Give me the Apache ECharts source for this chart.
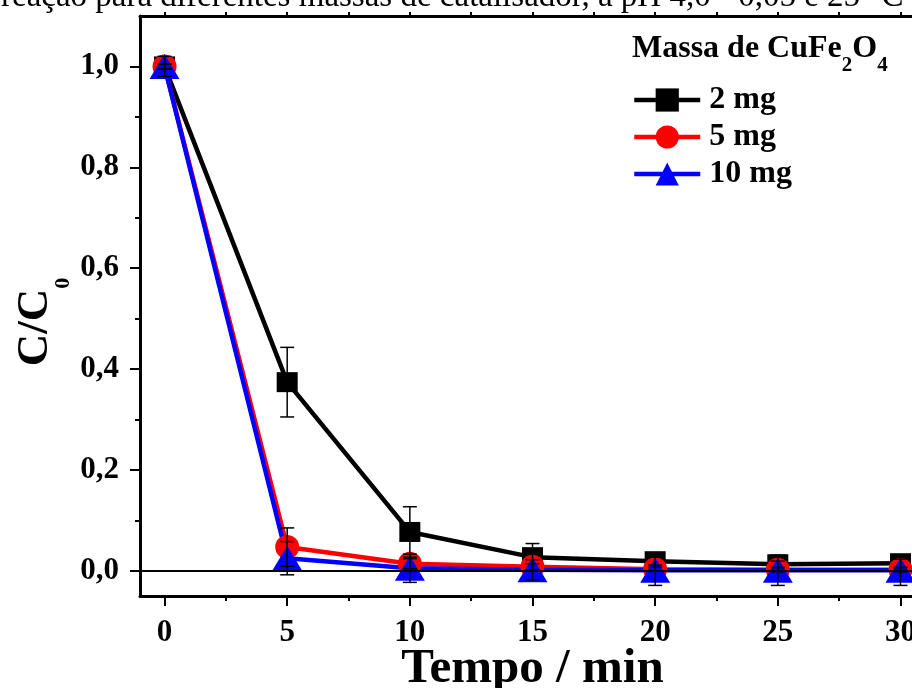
<!DOCTYPE html>
<html>
<head>
<meta charset="utf-8">
<script src="https://cdn.jsdelivr.net/npm/echarts@6/dist/echarts.min.js"></script>
<style>
html, body { margin: 0; padding: 0; background: #fff; }
#main { width: 912px; height: 688px; }
</style>
</head>
<body>
<div id="main"></div>
<script>
// tempo (min) e C/C0 para cada massa de catalisador
var tempo = [0, 5, 10, 15, 20, 25, 30]
var massas = ['2 mg', '5 mg', '10 mg']
var c2mg = [1.0, 0.374, 0.077, 0.027, 0.019, 0.013, 0.015]
var c5mg = [1.0, 0.047, 0.014, 0.008, 0.003, 0.002, 0.002]
var c10mg = [1.0, 0.025, 0.005, 0.002, 0.001, 0.001, 0.001]
// desvios (barras de erro)
var err2mg = [0.005, 0.069, 0.05, 0.027, 0.008, 0.006, 0.008]
var err5mg = [0.005, 0.038, 0.01, 0.006, 0.004, 0.004, 0.004]
var err10mg = [0.02, 0.033, 0.028, 0.02, 0.03, 0.03, 0.03]
// ticks
var xTicks = [0, 5, 10, 15, 20, 25, 30]
var xMinorTicks = [2.5, 7.5, 12.5, 17.5, 22.5, 27.5]
var xTopTicks = [0, 2.5, 5, 7.5, 10, 12.5, 15, 17.5, 20, 22.5, 25, 27.5, 30]
var yTicks = [0, 0.2, 0.4, 0.6, 0.8, 1.0]
var yMinorTicks = [0.1, 0.3, 0.5, 0.7, 0.9]

var serif = '"Liberation Serif", "DejaVu Serif", serif'

function pares (ys) {
  return tempo.map(function (t, i) { return [t, ys[i]] })
}

function serieLinha (name, ys, color, symbol, size) {
  return {
    name: name,
    type: 'line',
    data: pares(ys),
    symbol: symbol,
    symbolSize: size,
    lineStyle: { color: color, width: 4.5 },
    itemStyle: { color: color },
    emphasis: { disabled: true },
    z: 2
  }
}

function serieErro (ys, es) {
  return {
    type: 'custom',
    silent: true,
    z: 5,
    data: tempo.map(function (t, i) { return [t, ys[i], es[i]] }),
    renderItem: function (params, api) {
      var x = api.value(0)
      var y = api.value(1)
      var e = api.value(2)
      var top = api.coord([x, y + e])
      var bot = api.coord([x, y - e])
      var w = 7
      var st = { stroke: '#000', lineWidth: 1.5 }
      return {
        type: 'group',
        children: [
          { type: 'line', shape: { x1: top[0], y1: top[1], x2: bot[0], y2: bot[1] }, style: st },
          { type: 'line', shape: { x1: top[0] - w, y1: top[1], x2: top[0] + w, y2: top[1] }, style: st },
          { type: 'line', shape: { x1: bot[0] - w, y1: bot[1], x2: bot[0] + w, y2: bot[1] }, style: st }
        ]
      }
    }
  }
}

var myChart = echarts.init(document.getElementById('main'))
var gridBox = { left: 140, top: 16, width: 785, height: 580, outerBoundsMode: 'none', containLabel: false }

myChart.setOption({
  animation: false,
  grid: [
    Object.assign({}, gridBox),
    Object.assign({}, gridBox)
  ],
  graphic: [
    {
      type: 'text',
      x: 1,
      y: 14,
      style: {
        text: 'reação para diferentes massas de catalisador, a pH 4,0 - 0,05 e 25 °C',
        font: '33px ' + serif,
        fill: '#000',
        verticalAlign: 'bottom'
      }
    },
    {
      type: 'text',
      x: 632,
      y: 49,
      style: {
        text: '{a|Massa de CuFe}{s|2}{a|O}{s|4}',
        verticalAlign: 'middle',
        fill: '#000',
        rich: {
          a: { font: 'bold 32px ' + serif, fill: '#000' },
          s: { font: 'bold 21px ' + serif, fill: '#000', padding: [34, 0, 0, 0] }
        }
      }
    }
  ],
  legend: {
    data: massas,
    orient: 'vertical',
    left: 632,
    top: 84,
    padding: 0,
    itemWidth: 66,
    itemHeight: 29,
    itemGap: 5,
    selectedMode: false,
    lineStyle: { width: 4.5 },
    textStyle: {
      fontFamily: serif,
      fontWeight: 'bold',
      fontSize: 32,
      color: '#000',
      padding: [0, 0, 0, 4]
    }
  },
  xAxis: [
    {
      type: 'value',
      gridIndex: 0,
      position: 'bottom',
      min: -1,
      max: 31,
      name: 'Tempo / min',
      nameLocation: 'middle',
      nameGap: 49,
      nameMoveOverlap: false,
      nameTextStyle: { fontFamily: serif, fontWeight: 'bold', fontSize: 49, color: '#000' },
      axisLine: { onZero: false, lineStyle: { color: '#000', width: 3 } },
      axisTick: { customValues: xTicks, length: 10, lineStyle: { color: '#000', width: 2 } },
      axisLabel: {
        customValues: xTicks,
        margin: 21,
        fontFamily: serif,
        fontWeight: 'bold',
        fontSize: 31,
        color: '#000'
      },
      splitLine: { show: false }
    },
    {
      type: 'value',
      gridIndex: 0,
      position: 'top',
      min: -1,
      max: 31,
      axisLine: { onZero: false, lineStyle: { color: '#000', width: 3 } },
      axisTick: { customValues: xTopTicks, length: 4, lineStyle: { color: '#000', width: 2 } },
      axisLabel: { show: false },
      splitLine: { show: false }
    },
    {
      type: 'value',
      gridIndex: 1,
      position: 'bottom',
      min: -1,
      max: 31,
      axisLine: { show: false, onZero: false },
      axisTick: { customValues: xMinorTicks, length: 5, lineStyle: { color: '#000', width: 2 } },
      axisLabel: { show: false },
      splitLine: { show: false }
    }
  ],
  yAxis: [
    {
      type: 'value',
      gridIndex: 0,
      min: -0.05,
      max: 1.1,
      name: '{a|C/C}{s|0}',
      nameLocation: 'middle',
      nameGap: 66,
      nameMoveOverlap: false,
      nameTextStyle: {
        color: '#000',
        rich: {
          a: { fontFamily: serif, fontWeight: 'bold', fontSize: 45, color: '#000' },
          s: { fontFamily: serif, fontWeight: 'bold', fontSize: 22, color: '#000', padding: [55, 32, 0, 0] }
        }
      },
      axisLine: { show: true, onZero: false, lineStyle: { color: '#000', width: 3 } },
      axisTick: { show: true, customValues: yTicks, length: 10, lineStyle: { color: '#000', width: 2 } },
      axisLabel: {
        customValues: yTicks,
        margin: 21,
        formatter: function (v) { return v.toFixed(1).replace('.', ',') },
        fontFamily: serif,
        fontWeight: 'bold',
        fontSize: 31,
        color: '#000'
      },
      splitLine: { show: false }
    },
    {
      type: 'value',
      gridIndex: 1,
      min: -0.05,
      max: 1.1,
      axisLine: { show: false, onZero: false },
      axisTick: { show: true, customValues: yMinorTicks, length: 5, lineStyle: { color: '#000', width: 2 } },
      axisLabel: { show: false },
      splitLine: { show: false }
    }
  ],
  series: [
    Object.assign(serieLinha('2 mg', c2mg, '#000000', 'rect', [21, 20]), {
      markLine: {
        silent: true,
        symbol: 'none',
        label: { show: false },
        lineStyle: { color: '#000', width: 2, type: 'solid' },
        data: [{ yAxis: 0 }]
      }
    }),
    serieLinha('5 mg', c5mg, '#ff0000', 'circle', 24),
    serieLinha('10 mg', c10mg, '#0000ff', 'triangle', [30, 25]),
    serieErro(c2mg, err2mg),
    serieErro(c5mg, err5mg),
    serieErro(c10mg, err10mg)
  ]
})
</script>
</body>
</html>
